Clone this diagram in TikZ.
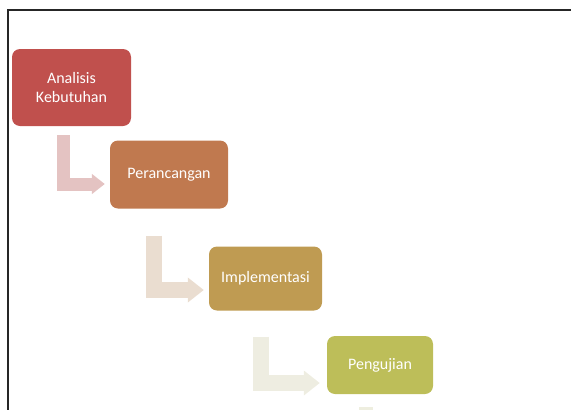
\documentclass[tikz,border=0pt]{standalone}
\usepackage{fontspec}
\setmainfont{Carlito}
\usetikzlibrary{arrows.meta}

\definecolor{stepA}{HTML}{C0504D}
\definecolor{stepB}{HTML}{C0794F}
\definecolor{stepC}{HTML}{BF9B52}
\definecolor{stepD}{HTML}{BDBE59}
\definecolor{bendA}{HTML}{E4C3C2}
\definecolor{bendB}{HTML}{EADDD0}
\definecolor{bendC}{HTML}{EEEDE1}
\definecolor{bendD}{HTML}{EEEEDF}

\tikzset{stepbox/.style={rectangle,rounded corners=8pt,inner sep=0pt,align=center,
    text=white,font=\fontsize{16}{18.5}\selectfont}}
\tikzset{bendarrow/.style={-{Triangle[length=0pt 1,width=0pt 1.5]}}}

\begin{document}
\begin{tikzpicture}[x=1pt,y=-1pt]
      \useasboundingbox (0,0) rectangle (571,410);
      \clip (0,0) rectangle (571,410);
      \draw[line width=1.8pt,black!85] (8,420) -- (8,10) -- (580,10);

      \node[stepbox,fill=stepA,minimum width=119pt,minimum height=77pt] (ak) at (71.5,87.5) {Analisis\\Kebutuhan};
      \node[stepbox,fill=stepB,minimum width=118pt,minimum height=68pt] (pr) at (169,174.5) {Perancangan};
      \node[stepbox,fill=stepC,minimum width=113pt,minimum height=64pt] (im) at (265.5,278.5) {Implementasi};
      \node[stepbox,fill=stepD,minimum width=106pt,minimum height=58pt] (pg) at (380,365) {Pengujian};

      \draw[bendarrow,line width=13pt,draw=bendA] ([xshift=-8]ak.south) ++(0,9) |- ([xshift=-5,yshift=-9.5]pr.west);
      \draw[bendarrow,line width=16pt,draw=bendB] ([xshift=-15]pr.south) ++(0,27) |- ([xshift=-5,yshift=-11.5]im.west);
      \draw[bendarrow,line width=16pt,draw=bendC] ([xshift=-5]im.south) ++(0,26) |- ([xshift=-7,yshift=-18]pg.west);
      \draw[line width=14pt,draw=bendD] ([xshift=-14]pg.south) ++(0,13) -- ++(0,20);
    \end{tikzpicture}
\end{document}
